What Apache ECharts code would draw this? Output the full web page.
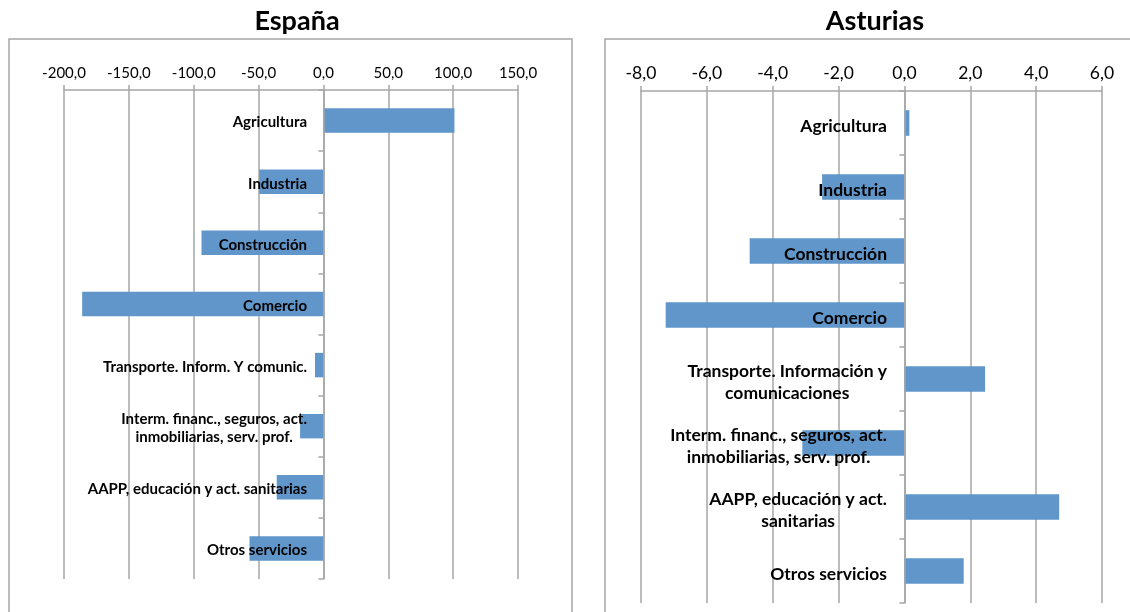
<!DOCTYPE html>
<html>
<head>
<meta charset="utf-8">
<script src="https://cdn.jsdelivr.net/npm/echarts@6/dist/echarts.min.js"></script>
<style>html,body{margin:0;padding:0;background:#fff;}#c{width:1130px;height:612px;}</style>
</head>
<body>
<div id="c"></div>
<script>
var titleEs = 'España';
var titleAs = 'Asturias';
var categoriesEs = ['Agricultura','Industria','Construcción','Comercio','Transporte. Inform. Y comunic.','Interm. financ., seguros, act.\ninmobiliarias, serv. prof.','AAPP, educación y act. sanitarias','Otros servicios'];
var valuesEs = [101, -49.5, -94, -186, -6.5, -18, -36, -57];
var categoriesAs = ['Agricultura','Industria','Construcción','Comercio','Transporte. Información y\ncomunicaciones','Interm. financ., seguros, act.\ninmobiliarias, serv. prof.','AAPP, educación y act.\nsanitarias','Otros servicios'];
var valuesAs = [0.15, -2.5, -4.7, -7.25, 2.45, -3.1, 4.7, 1.8];
var ticksEs = {min: -200, max: 150, interval: 50};
var ticksAs = {min: -8, max: 6, interval: 2};

var FONT = 'Lato';
var GRAY = '#A6A6A6';
var BLUE = '#6096CA';
function fmt(v){ return v.toFixed(1).replace('.', ','); }
function catFmt(v){
  if (v.indexOf('\n') < 0) return v;
  return v.split('\n').map(function(l){ return '{c|' + l + '}'; }).join('\n');
}
function yAxis(idx, cats, fs, lh, margin, padTop){
  return {
    type: 'category', gridIndex: idx, data: cats, inverse: true, z: 5,
    axisLine: {show: true, onZero: true, lineStyle: {color: GRAY, width: 1.5}},
    axisTick: {show: true, length: 5, lineStyle: {color: GRAY, width: 1.5}},
    splitLine: {show: false},
    axisLabel: {
      show: true, margin: margin, color: '#000', fontFamily: FONT, fontWeight: 'bold', fontSize: fs, lineHeight: lh,
      padding: [padTop, 0, 0, 0],
      formatter: catFmt,
      rich: {c: {align: 'center', fontFamily: FONT, fontWeight: 'bold', fontSize: fs, lineHeight: lh, color: '#000'}}
    }
  };
}
function xAxis(idx, t, fs){
  return {
    type: 'value', gridIndex: idx, position: 'top', min: t.min, max: t.max, interval: t.interval,
    axisLine: {show: true, onZero: false, lineStyle: {color: GRAY, width: 1.5}},
    axisTick: {show: true, length: 5, lineStyle: {color: GRAY, width: 1.5}},
    splitLine: {show: true, lineStyle: {color: GRAY, width: 1.5}},
    axisLabel: {color: '#000', fontFamily: FONT, fontSize: fs, margin: 9, formatter: fmt}
  };
}
var chart = echarts.init(document.getElementById('c'));
chart.setOption({
  animation: false,
  backgroundColor: '#fff',
  title: [
    {text: titleEs, left: 292, top: 3, textAlign: 'center', textStyle: {fontFamily: FONT, fontWeight: 'bold', fontSize: 27, color: '#000'}},
    {text: titleAs, left: 870, top: 3, textAlign: 'center', textStyle: {fontFamily: FONT, fontWeight: 'bold', fontSize: 27, color: '#000'}}
  ],
  graphic: [
    {type: 'rect', shape: {x: 9, y: 39, width: 563, height: 620}, style: {fill: 'none', stroke: GRAY, lineWidth: 1.5}, z: -1},
    {type: 'rect', shape: {x: 605, y: 39, width: 560, height: 620}, style: {fill: 'none', stroke: GRAY, lineWidth: 1.5}, z: -1}
  ],
  grid: [
    {left: 64, right: 612, top: 90, bottom: 33, outerBoundsMode: 'none', containLabel: false},
    {left: 641, right: 28, top: 91, bottom: 9, outerBoundsMode: 'none', containLabel: false}
  ],
  xAxis: [xAxis(0, ticksEs, 15), xAxis(1, ticksAs, 17.5)],
  yAxis: [yAxis(0, categoriesEs, 15, 18, -243, 4), yAxis(1, categoriesAs, 17.5, 22, -246, 6)],
  series: [
    {type: 'bar', xAxisIndex: 0, yAxisIndex: 0, data: valuesEs, barWidth: '40%', itemStyle: {color: BLUE}},
    {type: 'bar', xAxisIndex: 1, yAxisIndex: 1, data: valuesAs, barWidth: '40%', itemStyle: {color: BLUE}}
  ]
});
</script>
</body>
</html>
